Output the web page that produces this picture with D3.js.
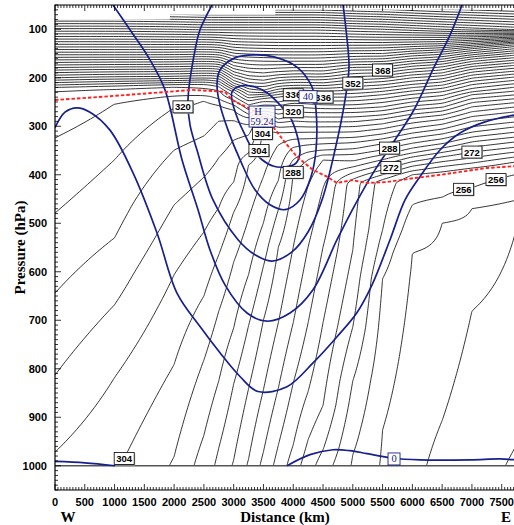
<!DOCTYPE html>
<html><head><meta charset="utf-8">
<script src="https://cdn.jsdelivr.net/npm/d3@7"></script>
<style>body{margin:0;background:#fff}svg{display:block}</style>
</head><body>
<svg id="c" width="514" height="525"></svg>
<script>
// Potential temperature section: profile columns (km) with [pressure hPa, theta K] knots
const colKm = [0,1000,2000,2500,2750,3000,3250,3500,3750,4000,4250,4500,5000,5500,6000,6500,7000,7750];
const colProfiles = [
 [[55,458],[100,423],[150,386],[200,348],[220,332],[226,328],[324,324],[479,320],[644,316],[813,312],[972,308],[1000,307]],
 [[55,458],[100,423],[150,386],[200,346],[217,332],[223,328],[254,324],[369,320],[530,316],[668,312],[818,308],[1000,304.5]],
 [[55,459],[100,424],[150,386],[200,346],[214,332],[219,328],[237,324],[262,320],[349,316],[462,312],[606,308],[791,304],[1000,299.6]],
 [[55,460],[100,425],[150,385],[200,344],[213,332],[221,328],[236,324],[246,320],[320,316],[405,312],[518,308],[650,304],[782,300],[937,296],[1000,294.2]],
 [[55,460],[100,425],[150,386],[195,349],[216,333],[226,328],[244,324],[256,320],[289,316],[365,312],[468,308],[565,304],[681,300],[825,296],[963,292],[1000,291.1]],
 [[55,460],[100,425],[157,387],[188,368],[213,351],[229,336],[238,332],[246,328],[256,324],[266,320],[287,316],[328,312],[415,308],[477,304],[580,300],[716,296],[831,292],[988,288],[1000,287.6]],
 [[55,460],[100,425],[159,387],[196,368],[225,351],[248,336],[256,332],[266,328],[275,324],[283,320],[297,316],[318,312],[355,308],[380,304],[491,300],[606,296],[711,292],[841,288],[986,284],[1000,283.5]],
 [[55,460],[100,425],[160,387],[198,368],[228,351],[242,336],[249,332],[255,328],[262,324],[268,320],[274,316],[279,312],[284,308],[297,304],[404,300],[499,296],[588,292],[699,288],[843,284],[971,280],[1000,278.9]],
 [[55,460],[100,425],[161,387],[194,368],[219,351],[240,336],[250,332],[258,328],[266,324],[275,320],[285,316],[293,312],[303,308],[314,304],[338,300],[412,296],[472,292],[549,288],[705,284],[840,280],[957,276],[1000,274.5]],
 [[55,460],[100,425],[161,387],[192,368],[217,351],[235,336],[244,332],[252,328],[260,324],[270,320],[279,316],[289,312],[300,308],[312,304],[326,300],[343,296],[369,292],[394,288],[549,284],[705,280],[829,276],[957,272],[1000,270.1]],
 [[55,460],[100,425],[161,387],[192,368],[217,351],[236,336],[246,332],[254,328],[262,324],[272,320],[281,316],[291,312],[302,308],[312,304],[326,300],[338,296],[353,292],[369,288],[382,286],[423,284],[549,280],[705,276],[847,272],[946,268],[1000,265.8]],
 [[55,460],[100,425],[161,387],[193,368],[218,351],[240,336],[248,332],[256,328],[264,324],[272,320],[281,316],[291,312],[301,308],[312,304],[324,300],[336,296],[349,292],[359,288],[369,284],[398,282],[427,280],[549,276],[705,272],[876,268],[967,264],[1000,262.1]],
 [[55,462],[100,427],[157,387],[184,368],[211,352],[240,336],[248,332],[256,328],[264,324],[272,320],[281,316],[291,312],[301,308],[312,304],[324,300],[334,296],[347,292],[359,288],[372,284],[384,280],[396,276],[409,272],[417,270],[555,268],[714,264],[825,260],[977,256],[1000,255.6]],
 [[55,463],[100,428],[157,387],[184,368],[208,352],[235,336],[243,332],[251,328],[260,324],[268,320],[277,316],[285,312],[295,308],[305,304],[316,300],[326,296],[336,292],[349,288],[359,284],[369,280],[380,276],[390,272],[400,268],[410,264],[414,262],[514,260],[614,256],[926,252],[1000,251.6]],
 [[55,465],[100,430],[151,387],[176,368],[200,352],[227,336],[234,332],[242,328],[250,324],[258,320],[266,316],[275,312],[283,308],[293,304],[304,300],[314,296],[324,292],[335,288],[345,284],[355,280],[363,276],[373,272],[382,268],[392,264],[400,260],[408,258],[462,256],[561,252],[1000,248.9]],
 [[55,467],[100,432],[148,387],[172,368],[196,352],[222,336],[229,332],[237,328],[245,324],[253,320],[261,316],[269,312],[277,308],[286,304],[296,300],[306,296],[316,292],[326,288],[336,284],[345,280],[354,276],[363,272],[373,268],[383,264],[394,260],[400,258],[447,256],[500,252],[907,248],[1000,247]],
 [[55,468],[100,434],[141,387],[161,368],[182,352],[207,336],[214,332],[222,328],[229,324],[235,320],[243,316],[251,312],[260,308],[270,304],[280,300],[290,296],[301,292],[312,288],[322,284],[332,280],[343,276],[353,272],[365,268],[376,264],[386,260],[392,258],[427,256],[470,252],[681,248],[1000,245.5]],
 [[55,470],[100,437],[132,387],[153,368],[174,352],[198,336],[205,332],[212,328],[219,324],[227,320],[235,316],[243,312],[251,308],[260,304],[270,300],[280,296],[291,292],[301,288],[312,284],[322,280],[332,276],[343,272],[353,268],[363,264],[373,260],[380,258],[399,256],[452,252],[510,248],[957,244],[1000,243.5]]
];
// upper limit of the analysed section [km, hPa]
const topEdge = [[0,80],[1930,80],[1930,70],[3700,70],[3700,60],[7750,60]];
const thetaLevels = d3.range(244, 481, 4);
// labelled isentropes [theta, km, hPa]
const thetaLabels = [[320,2200,258],[304,1209,985],[304,3425,316],[304,3324,349],[288,3980,394],[320,4046,270],
 [336,4030,235],[336,4584,242],[352,5020,211],[368,5440,184],[288,5641,343],[272,5608,384],[272,7052,353],[256,6884,435],[256,7421,406]];

// wind speed isotachs [km, hPa]
const isotach10 = [[0,303],[168,271],[369,262],[588,271],[923,308],[1310,396],[1713,520],[2048,644],[2435,713],[2770,767],[3106,816],[3408,847],[3895,837],[4332,788],[4735,734],[5071,684],[5323,627],[5625,534],[5877,452],[6128,404],[6464,349],[6800,314],[7220,291],[7750,276]];
const isotach20 = [[974,50],[1259,101],[1595,163],[1847,225],[2132,369],[2401,472],[2602,555],[2854,627],[3224,685],[3560,702],[3946,685],[4332,637],[4735,534],[5037,462],[5373,390],[5709,328],[6028,266],[6364,178],[6632,112],[6834,50]];
const isotach30 = [[2636,50],[2435,101],[2351,143],[2233,246],[2267,297],[2384,349],[2653,452],[3073,534],[3358,565],[3643,578],[3979,559],[4248,518],[4483,452],[4701,349],[4869,246],[4936,178],[4886,101],[4836,50]];
const isotach40 = [[2770,184],[3022,159],[3341,153],[3677,157],[4063,178],[4315,219],[4382,266],[4382,349],[4298,404],[4113,452],[3862,472],[3610,462],[3358,431],[3106,369],[2905,308],[2770,256],[2720,215]];
const isotach50 = [[2972,229],[3106,217],[3358,219],[3560,231],[3778,256],[3946,281],[4063,318],[4113,355],[4046,376],[3862,384],[3660,382],[3476,369],[3324,349],[3190,318],[3056,281],[2972,246]];
const isotach0a = [[0,991],[504,994],[1007,1000]];
const isotach0b = [[3895,1000],[4281,977],[4668,967],[4953,969],[5238,975],[5658,984],[6128,988],[6968,988],[7472,986],[7750,988]];
const jetMax = {km:3476, p:281, text:"59.24"};
const isotachLabels = [["40",4248,239],["0",5692,986]];
// dynamic tropopause
const tropopause = [[0,246],[923,238],[1897,229],[2300,225],[2854,229],[2972,246],[3308,266],[3476,283],[3610,293],[3828,328],[4063,363],[4332,390],[4567,404],[4735,417],[4987,411],[5238,417],[5574,415],[6028,407],[6481,400],[6917,392],[7253,386],[7750,382]];

const pTicks = d3.range(100, 1001, 100);
const kmTicks = d3.range(0, 7501, 500);

const svg = d3.select("#c");
const x = d3.scaleLinear().domain([0, 7750]).range([55, 516.6]);
const y = d3.scaleLinear().domain([50, 1050]).range([5, 490]);
const BLUE = "#17208c";

// ---- build theta grid ----
const pTop = 55, pBot = 1000, dp = 5;
const nx = colKm.length, ny = Math.round((pBot - pTop) / dp) + 1;
function profileAt(prof, p) {
  if (p <= prof[0][0]) return prof[0][1];
  for (let k = 1; k < prof.length; k++) {
    if (p <= prof[k][0]) {
      const [p0, t0] = prof[k - 1], [p1, t1] = prof[k];
      return t0 + (t1 - t0) * (p - p0) / (p1 - p0);
    }
  }
  return prof[prof.length - 1][1];
}
const values = new Array(nx * ny);
for (let j = 0; j < ny; j++) {
  const p = pTop + j * dp;
  for (let i = 0; i < nx; i++) values[j * nx + i] = profileAt(colProfiles[i], p);
}
function gridToData(c) {
  const gx = Math.max(0, Math.min(nx - 1, c[0] - 0.5));
  const i = Math.min(nx - 2, Math.floor(gx)), f = gx - i;
  const gy = Math.max(0, Math.min(ny - 1, c[1] - 0.5));
  return [colKm[i] + f * (colKm[i + 1] - colKm[i]), pTop + gy * dp];
}
const isEdge = c => c[0] <= 0 || c[0] >= nx || c[1] <= 0 || c[1] >= ny;

const contours = d3.contours().size([nx, ny]).thresholds(thetaLevels)(values);
const isolines = [];
contours.forEach(mp => {
  mp.coordinates.forEach(poly => poly.forEach(ring => {
    const pts = ring.slice(0, -1), n = pts.length, edge = pts.map(isEdge);
    if (!edge.some(Boolean)) { isolines.push({v: mp.value, pts: pts.concat([pts[0]]).map(gridToData)}); return; }
    const s = edge.indexOf(true);
    let cur = [];
    for (let k = 1; k <= n; k++) {
      const idx = (s + k) % n;
      if (edge[idx]) { if (cur.length > 1) isolines.push({v: mp.value, pts: cur.map(gridToData)}); cur = []; }
      else cur.push(pts[idx]);
    }
    if (cur.length > 1) isolines.push({v: mp.value, pts: cur.map(gridToData)});
  }));
});

// ---- clip to the analysed section ----
const defs = svg.append("defs");
const clipPts = topEdge.map(d => [x(d[0]), y(d[1])]).concat([[x(7750), y(1000)], [x(0), y(1000)]]);
defs.append("clipPath").attr("id", "sec").append("path").attr("d", "M" + clipPts.join("L") + "Z");
defs.append("clipPath").attr("id", "plot").append("rect")
  .attr("x", x(0)).attr("y", y(50)).attr("width", x(7750) - x(0)).attr("height", y(1050) - y(50));

const lineKm = d3.line().x(d => x(d[0])).y(d => y(d[1]));
const smooth = d3.line().x(d => x(d[0])).y(d => y(d[1])).curve(d3.curveBasis);

const gTheta = svg.append("g").attr("clip-path", "url(#sec)");
gTheta.selectAll("path").data(isolines).join("path")
  .attr("d", d => smooth(d.pts)).attr("fill", "none").attr("stroke", "#000").attr("stroke-width", 0.8);

// surface line
svg.append("line").attr("x1", x(0)).attr("x2", x(7750)).attr("y1", y(1000)).attr("y2", y(1000))
  .attr("stroke", "#555").attr("stroke-width", 1.6);

// ---- isotachs ----
const gIso = svg.append("g").attr("clip-path", "url(#plot)").attr("fill", "none").attr("stroke", BLUE).attr("stroke-width", 1.7);
const smoothC = d3.line().x(d => x(d[0])).y(d => y(d[1])).curve(d3.curveCatmullRom.alpha(0.5));
const smoothClosed = d3.line().x(d => x(d[0])).y(d => y(d[1])).curve(d3.curveCatmullRomClosed.alpha(0.5));
[isotach10, isotach20, isotach30, isotach0a, isotach0b].forEach(a => gIso.append("path").attr("d", smoothC(a)));
[isotach40, isotach50].forEach(a => gIso.append("path").attr("d", smoothClosed(a)));

// ---- tropopause ----
svg.append("path").attr("d", lineKm(tropopause)).attr("clip-path", "url(#plot)")
  .attr("fill", "none").attr("stroke", "#f22").attr("stroke-width", 1.9).attr("stroke-dasharray", "3.5,2");

// ---- contour labels ----
function nearestOn(v, px, py) {
  let best = null, bd = Infinity;
  isolines.filter(l => l.v === v).forEach(l => l.pts.forEach(d => {
    const qx = x(d[0]), qy = y(d[1]), dd = (qx - px) ** 2 + (qy - py) ** 2;
    if (dd < bd) { bd = dd; best = [qx, qy]; }
  }));
  return best || [px, py];
}
const gLab = svg.append("g");
thetaLabels.forEach(([v, km, p]) => {
  const [cx, cy] = nearestOn(v, x(km), y(p));
  const w = 20, h = 12;
  gLab.append("rect").attr("x", cx - w / 2 + 1).attr("y", cy - h / 2 + 1).attr("width", w).attr("height", h).attr("fill", "#aaa");
  gLab.append("rect").attr("x", cx - w / 2).attr("y", cy - h / 2).attr("width", w).attr("height", h)
    .attr("fill", "#fff").attr("stroke", "#000").attr("stroke-width", 0.8);
  gLab.append("text").attr("x", cx).attr("y", cy + 3.5).attr("text-anchor", "middle")
    .attr("font-family", "Liberation Sans, Arial, sans-serif").attr("font-weight", "bold").attr("font-size", 9.5)
    .text(v);
});
isotachLabels.forEach(([t, km, p]) => {
  const cx = x(km), cy = y(p), w = t.length * 6 + 6, h = 12;
  gLab.append("rect").attr("x", cx - w / 2).attr("y", cy - h / 2).attr("width", w).attr("height", h)
    .attr("fill", "#fff").attr("stroke", BLUE).attr("stroke-width", 0.9);
  gLab.append("text").attr("x", cx).attr("y", cy + 3.5).attr("text-anchor", "middle").attr("fill", BLUE)
    .attr("font-family", "Liberation Serif, serif").attr("font-size", 10.5).text(t);
});
{
  const cx = x(jetMax.km), cy = y(jetMax.p);
  gLab.append("rect").attr("x", cx - 13).attr("y", cy - 11).attr("width", 26).attr("height", 21)
    .attr("fill", "#fff").attr("fill-opacity", 0.85).attr("stroke", BLUE).attr("stroke-width", 0.9);
  gLab.append("text").attr("x", cx - 4).attr("y", cy - 2).attr("text-anchor", "middle").attr("fill", BLUE)
    .attr("font-family", "Liberation Serif, serif").attr("font-size", 10.5).text("H");
  gLab.append("text").attr("x", cx).attr("y", cy + 8).attr("text-anchor", "middle").attr("fill", BLUE)
    .attr("font-family", "Liberation Serif, serif").attr("font-size", 10.5).text(jetMax.text);
}

// ---- frame and axes ----
const gAx = svg.append("g").attr("stroke", "#000");
gAx.append("path").attr("d", `M${x(7750)},${y(50)}H${x(0)}V${y(1050)}H${x(7750)}`).attr("fill", "none").attr("stroke-width", 1.2);
d3.range(50, 1051, 10).forEach(p => {
  const L = p % 100 === 0 ? 6 : 3;
  gAx.append("line").attr("x1", x(0)).attr("x2", x(0) + L).attr("y1", y(p)).attr("y2", y(p)).attr("stroke-width", 0.8);
});
d3.range(0, 7751, 50).forEach(k => {
  const L = k % 500 === 0 ? 6 : 3;
  gAx.append("line").attr("x1", x(k)).attr("x2", x(k)).attr("y1", y(1050)).attr("y2", y(1050) - L).attr("stroke-width", 0.8);
  gAx.append("line").attr("x1", x(k)).attr("x2", x(k)).attr("y1", y(50)).attr("y2", y(50) + L).attr("stroke-width", 0.8);
});
const tickFont = "Liberation Sans, Arial, sans-serif";
svg.append("g").selectAll("text").data(pTicks).join("text")
  .attr("x", 47).attr("y", d => y(d) + 4).attr("text-anchor", "end")
  .attr("font-family", tickFont).attr("font-weight", "bold").attr("font-size", 11).text(d => d);
svg.append("g").selectAll("text").data(kmTicks).join("text")
  .attr("x", d => x(d)).attr("y", 506).attr("text-anchor", "middle")
  .attr("font-family", tickFont).attr("font-weight", "bold").attr("font-size", 11).text(d => d);
const titleFont = "Liberation Serif, Times New Roman, serif";
svg.append("text").attr("transform", `translate(25,${y(550)}) rotate(-90)`).attr("text-anchor", "middle")
  .attr("font-family", titleFont).attr("font-weight", "bold").attr("font-size", 15).text("Pressure (hPa)");
svg.append("text").attr("x", 285).attr("y", 522).attr("text-anchor", "middle")
  .attr("font-family", titleFont).attr("font-weight", "bold").attr("font-size", 15).text("Distance (km)");
svg.append("text").attr("x", 68).attr("y", 522).attr("text-anchor", "middle")
  .attr("font-family", titleFont).attr("font-weight", "bold").attr("font-size", 15).text("W");
svg.append("text").attr("x", 506).attr("y", 522).attr("text-anchor", "middle")
  .attr("font-family", titleFont).attr("font-weight", "bold").attr("font-size", 15).text("E");
</script>
</body></html>
